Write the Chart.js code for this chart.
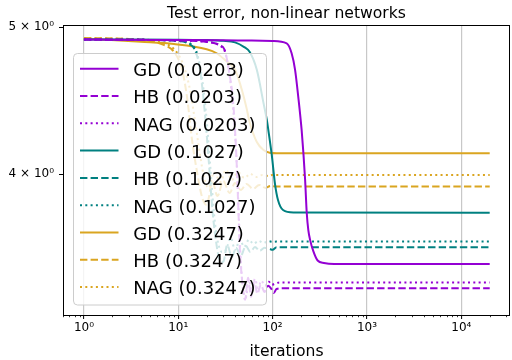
<!DOCTYPE html>
<html><head><meta charset="utf-8">
<script src="https://cdn.jsdelivr.net/npm/chart.js@4.4.1/dist/chart.umd.min.js"></script>
<style>html,body{margin:0;padding:0;background:#fff;}#wrap{width:512px;height:360px;}</style>
</head><body><div id="wrap"><canvas id="c" width="512" height="360"></canvas></div>
<script>
// ---- data ----
const titleText = 'Test error, non-linear networks';
const xLabel = 'iterations';
const seriesLabels = ['GD (0.0203)','HB (0.0203)','NAG (0.0203)','GD (0.1027)','HB (0.1027)','NAG (0.1027)','GD (0.3247)','HB (0.3247)','NAG (0.3247)'];

const gd0203X = [1,10,30,60,100,141,159,173,187,203,212,221,230,239,250,270,300,350,450,20000];
const gd0203Y = [4.906,4.903,4.901,4.898,4.895,4.878,4.805,4.686,4.498,4.278,4.130,3.966,3.772,3.676,3.62,3.56,3.51,3.497,3.492,3.492];
const hb0203X = [1,5,10,20,27,31,35,38,41,43,45,48,51,55,59,64,69,75,82,90,97,103,110,130,20000];
const hb0203Y = [4.906,4.903,4.899,4.888,4.866,4.829,4.650,4.477,4.150,3.847,3.567,3.383,3.307,3.419,3.322,3.399,3.337,3.383,3.347,3.378,3.362,3.342,3.362,3.366,3.366];
const nag0203X = [1,5,10,20,28,32,36,39,42,44,46,49,52,56,60,65,70,76,83,91,98,105,115,130,20000];
const nag0203Y = [4.906,4.903,4.899,4.888,4.858,4.793,4.578,4.343,4.026,3.732,3.503,3.357,3.317,3.409,3.347,3.414,3.367,3.404,3.378,3.399,3.383,3.388,3.394,3.395,3.395];

const gd1027X = [1,10,20,30,40,50,57,68,80,87,90,98,106,114,129,166,20000];
const gd1027Y = [4.906,4.905,4.902,4.897,4.885,4.85,4.816,4.686,4.457,4.34,4.278,4.117,3.941,3.847,3.789,3.775,3.774];
const hb1027X = [1,5,10,13,15,17,19,21,23,25,27,30,33,37,41,46,52,58,65,73,82,92,100,110,20000];
const hb1027Y = [4.906,4.903,4.895,4.873,4.829,4.686,4.409,4.088,3.789,3.622,3.524,3.503,3.594,3.529,3.578,3.535,3.589,3.556,3.583,3.562,3.578,3.573,3.567,3.581,3.581];
const nag1027X = [1,5,10,14,16,18,20,22,24,26,29,32,36,40,45,50,56,63,71,80,90,100,110,20000];
const nag1027Y = [4.906,4.903,4.895,4.866,4.793,4.611,4.343,4.026,3.761,3.622,3.556,3.567,3.632,3.567,3.622,3.583,3.622,3.600,3.616,3.605,3.614,3.611,3.612,3.612];

const gd3247X = [1,4,9,20,25.5,32,40,47,53,57,68,80,93,110,20000];
const gd3247Y = [4.914,4.890,4.873,4.834,4.805,4.75,4.686,4.55,4.42,4.33,4.20,4.15,4.133,4.130,4.130];
const hb3247X = [1,3,5,7,9,11,12.5,14,16,18,20,23,26,30,35,40,46,53,62,72,84,95,110,20000];
const hb3247Y = [4.917,4.910,4.895,4.866,4.815,4.686,4.477,4.213,3.996,3.858,3.818,3.954,3.870,3.960,3.888,3.948,3.906,3.942,3.912,3.936,3.918,3.930,3.926,3.926];
const nag3247X = [1,3,5,7,9,11,13,15,17,19,21,24,28,32,37,43,50,58,67,78,90,100,110,20000];
const nag3247Y = [4.917,4.910,4.903,4.880,4.836,4.742,4.578,4.343,4.119,3.966,3.918,4.013,3.954,4.026,3.966,4.013,3.978,4.002,3.984,3.996,3.990,3.996,3.996,3.996];

const xMajorTicks = [1,10,100,1000,10000];
const xTickLabels = ['10\u2070','10\u00B9','10\u00B2','10\u00B3','10\u2074'];
const yTicks = [4,5];
const yTickLabels = ['4 \u00D7 10\u2070','5 \u00D7 10\u2070'];
const xRange = [0.6094, 32819];
const yRange = [3.2318, 5.0152];

// ---- styles ----
const PURPLE = '#9400D3', TEAL = '#008080', GOLD = '#DAA520';
const DASH = [7.4, 3.2], DOT = [2, 3.3];
const FONT = '"DejaVu Sans", sans-serif';

const xs = [gd0203X,hb0203X,nag0203X,gd1027X,hb1027X,nag1027X,gd3247X,hb3247X,nag3247X];
const ys = [gd0203Y,hb0203Y,nag0203Y,gd1027Y,hb1027Y,nag1027Y,gd3247Y,hb3247Y,nag3247Y];
const colors = [PURPLE,PURPLE,PURPLE,TEAL,TEAL,TEAL,GOLD,GOLD,GOLD];
const dashes = [[],DASH,DOT,[],DASH,DOT,[],DASH,DOT];

const datasets = seriesLabels.map((lab,i)=>({
  label: lab,
  data: xs[i].map((x,j)=>({x:x, y:ys[i][j]})),
  borderColor: colors[i],
  borderDash: dashes[i],
  borderWidth: 2,
  pointRadius: 0,
  fill: false,
  cubicInterpolationMode: 'monotone',
  borderCapStyle: 'butt'
}));

const xMinorTicks = [];
[0.1,1,10,100,1000,10000].forEach(d=>{ for (let m=2;m<=9;m++) xMinorTicks.push(m*d); });

const deco = {
  id: 'deco',
  afterDatasetsDraw(chart) {
    const ctx = chart.ctx, a = chart.chartArea, sx = chart.scales.x;
    ctx.save();
    // minor ticks on x
    ctx.strokeStyle = '#000'; ctx.lineWidth = 0.8; ctx.setLineDash([]);
    xMinorTicks.forEach(v=>{
      if (v < sx.min || v > sx.max) return;
      const px = Math.round(sx.getPixelForValue(v)) + 0.5;
      ctx.beginPath(); ctx.moveTo(px, a.bottom); ctx.lineTo(px, a.bottom + 2.2); ctx.stroke();
    });
    // legend
    const L = {x:73.5, y:53.5, w:193, h:251.5, r:4};
    ctx.beginPath();
    ctx.moveTo(L.x+L.r, L.y);
    ctx.lineTo(L.x+L.w-L.r, L.y); ctx.quadraticCurveTo(L.x+L.w, L.y, L.x+L.w, L.y+L.r);
    ctx.lineTo(L.x+L.w, L.y+L.h-L.r); ctx.quadraticCurveTo(L.x+L.w, L.y+L.h, L.x+L.w-L.r, L.y+L.h);
    ctx.lineTo(L.x+L.r, L.y+L.h); ctx.quadraticCurveTo(L.x, L.y+L.h, L.x, L.y+L.h-L.r);
    ctx.lineTo(L.x, L.y+L.r); ctx.quadraticCurveTo(L.x, L.y, L.x+L.r, L.y);
    ctx.closePath();
    ctx.fillStyle = 'rgba(255,255,255,0.8)'; ctx.fill();
    ctx.strokeStyle = '#cccccc'; ctx.lineWidth = 1; ctx.stroke();
    ctx.font = '18px ' + FONT; ctx.textAlign = 'left'; ctx.textBaseline = 'alphabetic';
    chart.data.datasets.forEach((ds,i)=>{
      const yl = 68.7 + 27.3*i;
      ctx.setLineDash(ds.borderDash || []);
      ctx.strokeStyle = ds.borderColor; ctx.lineWidth = 2; ctx.lineCap = 'butt';
      ctx.beginPath(); ctx.moveTo(80, yl); ctx.lineTo(118.5, yl); ctx.stroke();
      ctx.setLineDash([]);
      ctx.fillStyle = '#000';
      ctx.fillText(ds.label, 133.3, 76 + 27.3*i);
    });
    // frame
    ctx.strokeStyle = '#000'; ctx.lineWidth = 1; ctx.setLineDash([]);
    ctx.strokeRect(Math.round(a.left)+0.5, Math.round(a.top)+0.5, Math.round(a.right-a.left)-1, Math.round(a.bottom-a.top));
    // title & axis label
    ctx.fillStyle = '#000'; ctx.textAlign = 'center';
    ctx.font = '15.6px ' + FONT;
    ctx.fillText(titleText, (a.left+a.right)/2, 17.5);
    ctx.fillText(xLabel, (a.left+a.right)/2, 355.5);
    ctx.restore();
  }
};

new Chart(document.getElementById('c'), {
  type: 'line',
  data: { datasets },
  plugins: [deco],
  options: {
    responsive: false,
    animation: false,
    devicePixelRatio: 1,
    layout: { padding: { top: 25, right: 2, bottom: 0, left: 0 } },
    plugins: { legend: { display: false }, title: { display: false }, tooltip: { enabled: false } },
    scales: {
      x: {
        type: 'logarithmic', min: xRange[0], max: xRange[1],
        afterBuildTicks: s => { s.ticks = xMajorTicks.map(v=>({value:v, major:true})); },
        afterFit: s => { s.height = 45; },
        ticks: { callback: (v,i)=>xTickLabels[i], font: {family: FONT, size: 12}, color: '#000', padding: 2, maxRotation: 0, autoSkip: false },
        grid: { color: '#c8c8c8', lineWidth: 1.2, tickColor: '#000', tickWidth: 1, tickLength: 4 },
        border: { display: false }
      },
      y: {
        type: 'logarithmic', min: yRange[0], max: yRange[1],
        afterBuildTicks: s => { s.ticks = yTicks.map(v=>({value:v})); },
        afterFit: s => { s.width = 63; },
        ticks: { callback: (v,i)=>yTickLabels[i], font: {family: FONT, size: 12}, color: '#000', padding: 5, autoSkip: false },
        grid: { drawOnChartArea: false, tickColor: '#000', tickWidth: 1, tickLength: 4 },
        border: { display: false }
      }
    }
  }
});
</script></body></html>
